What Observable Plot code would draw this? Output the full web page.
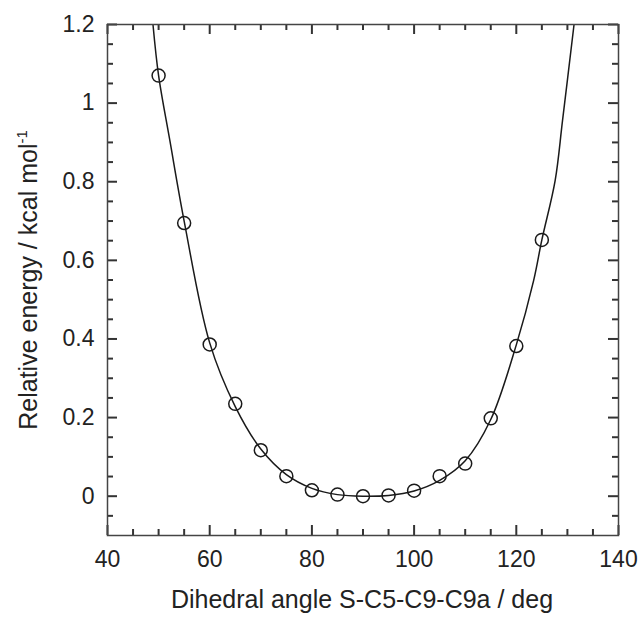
<!DOCTYPE html>
<html><head><meta charset="utf-8">
<script src="https://cdn.jsdelivr.net/npm/d3@7"></script>
<script src="https://cdn.jsdelivr.net/npm/@observablehq/plot@0.6"></script>
<style>html,body{margin:0;padding:0;background:#fff;} svg{display:block;}</style>
</head><body><div id="chart"></div>
<script>
// Computed points (dihedral angle, relative energy)
const angles   = [50, 55, 60, 65, 70, 75, 80, 85, 90, 95, 100, 105, 110, 115, 120, 125];
const energies = [1.070, 0.695, 0.386, 0.235, 0.117, 0.051, 0.015, 0.004, 0.000, 0.002, 0.014, 0.051, 0.083, 0.198, 0.382, 0.652];

// Fitted curve
const fitAngles   = [48.9, 50, 52.2, 55, 60, 65, 70, 75, 80, 85, 90, 95, 100, 105, 110, 115, 120, 123.4, 125, 127.6, 129.05, 131.3];
const fitEnergies = [1.2, 1.07, 0.905, 0.70, 0.39, 0.228, 0.12, 0.055, 0.02, 0.004, 0.0, 0.002, 0.013, 0.04, 0.09, 0.195, 0.385, 0.549, 0.652, 0.803, 0.956, 1.2];

// Axis ticks
const xMajorTicks = [40, 60, 80, 100, 120, 140];
const xMinorTicks = [45, 50, 55, 65, 70, 75, 85, 90, 95, 105, 110, 115, 125, 130, 135];
const yMajorTicks = [0, 0.2, 0.4, 0.6, 0.8, 1, 1.2];
const yMinorTicks = [-0.05, 0.05, 0.1, 0.15, 0.25, 0.3, 0.35, 0.45, 0.5, 0.55, 0.65, 0.7, 0.75, 0.85, 0.9, 0.95, 1.05, 1.1, 1.15];

const xTitle = "Dihedral angle S-C5-C9-C9a / deg";
const yTitle = "Relative energy / kcal mol";
const yTitleSup = "-1";

const points = angles.map((a, i) => ({a, e: energies[i]}));
const fit = fitAngles.map((a, i) => ({a, e: fitEnergies[i]}));

const W = 640, H = 619, mL = 107, mR = 22, mT = 24, mB = 84;
const fw = W - mL - mR, fh = H - mT - mB;
const axisColor = "#333";
const minor = 6, major = 10;
const tk = {stroke: axisColor, strokeWidth: 2};

const svg = Plot.plot({
  width: W,
  height: H,
  marginLeft: mL,
  marginRight: mR,
  marginTop: mT,
  marginBottom: mB,
  style: {fontFamily: "'Liberation Sans', Arial, sans-serif", fontSize: "23px", color: "#222", background: "#fff"},
  x: {domain: [40, 140], label: null},
  y: {domain: [-0.1, 1.2], label: null},
  marks: [
    // inward ticks on all four sides
    Plot.tickX(xMinorTicks, {x: d => d, insetTop: fh - minor, ...tk}),
    Plot.tickX(xMajorTicks, {x: d => d, insetTop: fh - major, ...tk}),
    Plot.tickX(xMinorTicks, {x: d => d, insetBottom: fh - minor, ...tk}),
    Plot.tickX(xMajorTicks, {x: d => d, insetBottom: fh - major, ...tk}),
    Plot.tickY(yMinorTicks, {y: d => d, insetRight: fw - minor, ...tk}),
    Plot.tickY(yMajorTicks, {y: d => d, insetRight: fw - major, ...tk}),
    Plot.tickY(yMinorTicks, {y: d => d, insetLeft: fw - minor, ...tk}),
    Plot.tickY(yMajorTicks, {y: d => d, insetLeft: fw - major, ...tk}),
    // tick labels
    Plot.axisX(xMajorTicks, {anchor: "bottom", tickSize: 0, tickPadding: 15, tickFormat: d => String(d), fill: "#222"}),
    Plot.axisY(yMajorTicks, {anchor: "left", tickSize: 0, tickPadding: 13, tickFormat: d => String(d), fill: "#222"}),
    // fitted curve
    Plot.line(fit, {x: "a", y: "e", curve: "catmull-rom", stroke: "#1a1a1a", strokeWidth: 1.5, clip: true}),
    // data points
    Plot.dot(points, {x: "a", y: "e", r: 6.5, stroke: "#1a1a1a", strokeWidth: 1.5, fill: "none"}),
    Plot.frame({stroke: "#444", strokeWidth: 1.5})
  ]
});

const s = d3.select(svg);
s.append("text")
  .attr("x", 362).attr("y", 608)
  .attr("text-anchor", "middle")
  .attr("font-size", 25).attr("fill", "#222")
  .attr("font-family", "'Liberation Sans', Arial, sans-serif")
  .text(xTitle);
const yt = s.append("text")
  .attr("transform", "translate(37,280) rotate(-90)")
  .attr("text-anchor", "middle")
  .attr("font-size", 25).attr("fill", "#222")
  .attr("font-family", "'Liberation Sans', Arial, sans-serif");
yt.append("tspan").text(yTitle);
yt.append("tspan").attr("font-size", 15).attr("dy", -10).text(yTitleSup);

document.getElementById("chart").appendChild(svg);
</script>
</body></html>
